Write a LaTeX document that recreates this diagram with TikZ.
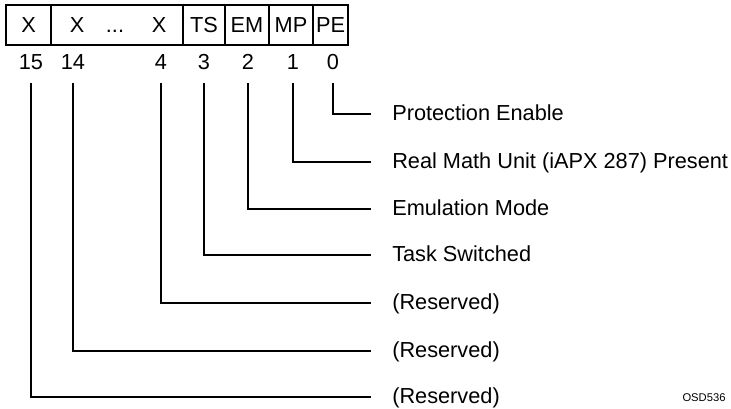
\documentclass[tikz,border=0pt]{standalone}
\usepackage{fontspec}
\setmainfont{Liberation Sans}
\usepackage{tikz}
\usetikzlibrary{positioning}

\tikzset{
  cell/.style={draw, line width=0.8pt, minimum height=30pt, inner sep=0pt, outer sep=0pt, text height=11.5pt, text depth=0pt, font=\fontsize{16.3}{19}\selectfont},
  celltext/.style={inner sep=0pt, text height=11.5pt, text depth=0pt, font=\fontsize{16.3}{19}\selectfont},
  bitnum/.style={inner sep=0pt, text height=11.5pt, text depth=0pt, font=\fontsize{16.3}{19}\selectfont},
  lab/.style={anchor=west, inner sep=0pt, text height=11.5pt, text depth=2pt, font=\fontsize{16.3}{19}\selectfont},
  wire/.style={line width=0.8pt, shorten <=10pt, shorten >=15.75pt}
}

\begin{document}
\begin{tikzpicture}[x=0.75pt, y=-0.75pt]
\useasboundingbox (0,0) rectangle (731,408);

% register fields
\node[cell, minimum width=33.75pt] (c15) at (28.5,25) {X};
\node[cell, minimum width=99pt, right=0pt of c15] (cres) {};
\node[cell, minimum width=31.5pt, right=0pt of cres] (cts) {TS};
\node[cell, minimum width=33pt, right=0pt of cts] (cem) {EM};
\node[cell, minimum width=33pt, right=0pt of cem] (cmp) {MP};
\node[cell, minimum width=26.25pt, right=0pt of cmp] (cpe) {PE};

\node[celltext] (x14) at (77,25) {X};
\node[celltext] (xdots) at (115,25) {...};
\node[celltext] (x4) at (159,25) {X};

% bit numbers
\node[bitnum] (n15) at (31,62) {15};
\node[bitnum] (n14) at (73,62) {14};
\node[bitnum] (n4) at (161,62) {4};
\node[bitnum] (n3) at (204,62) {3};
\node[bitnum] (n2) at (248,62) {2};
\node[bitnum] (n1) at (293,62) {1};
\node[bitnum] (n0) at (333,62) {0};

% meanings
\node[lab] (t0) at (392,114) {Protection Enable};
\node[lab] (t1) at (392,162) {Real Math Unit (iAPX 287) Present};
\node[lab] (t2) at (392,209) {Emulation Mode};
\node[lab] (t3) at (392,255) {Task Switched};
\node[lab] (t4) at (392,303) {(Reserved)};
\node[lab] (t14) at (392,351) {(Reserved)};
\node[lab] (t15) at (392,397) {(Reserved)};

\draw[wire] (n0) |- (t0);
\draw[wire] (n1) |- (t1);
\draw[wire] (n2) |- (t2);
\draw[wire] (n3) |- (t3);
\draw[wire] (n4) |- (t4);
\draw[wire] (n14) |- (t14);
\draw[wire] (n15) |- (t15);

\node[font=\fontsize{8.4}{10}\selectfont] (osd) at (704,398) {OSD536};

\end{tikzpicture}
\end{document}
